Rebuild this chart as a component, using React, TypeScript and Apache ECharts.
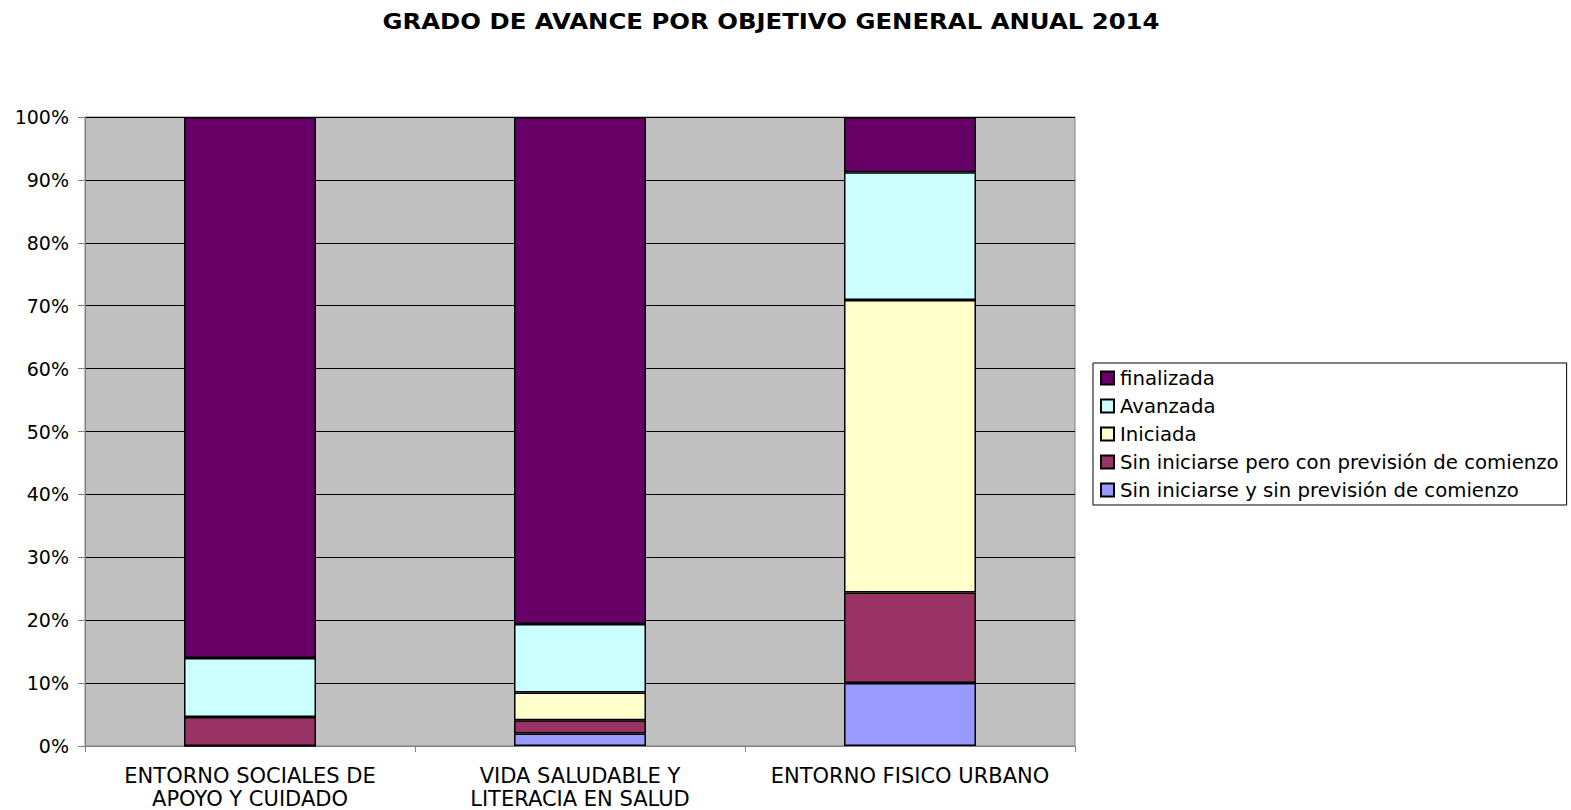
import React, { useEffect, useRef } from "react";
import * as echarts from "echarts";

const titleText = "GRADO DE AVANCE POR OBJETIVO GENERAL ANUAL 2014";
const categories = [
  "ENTORNO SOCIALES DE\nAPOYO Y CUIDADO",
  "VIDA SALUDABLE Y\nLITERACIA EN SALUD",
  "ENTORNO FISICO URBANO",
];
const sinSinPrevision = [0, 2.0, 10.0];
const sinConPrevision = [4.6, 2.1, 14.4];
const iniciada = [0, 4.4, 46.5];
const avanzada = [9.4, 10.9, 20.3];
const finalizada = [86.0, 80.6, 8.8];
const yTicks = [0, 10, 20, 30, 40, 50, 60, 70, 80, 90, 100];

const seriesDefs = [
  { name: "Sin iniciarse y sin previsión de comienzo", data: sinSinPrevision, color: "#9999FF" },
  { name: "Sin iniciarse pero con previsión de comienzo", data: sinConPrevision, color: "#993366" },
  { name: "Iniciada", data: iniciada, color: "#FFFFCC" },
  { name: "Avanzada", data: avanzada, color: "#CCFFFF" },
  { name: "finalizada", data: finalizada, color: "#660066" },
];

export default function App() {
  const ref = useRef<HTMLDivElement>(null);
  useEffect(() => {
    if (!ref.current) return;
    const chart = echarts.init(ref.current, null, { renderer: "svg" });
    const font = "DejaVu Sans, Liberation Sans, Arial, sans-serif";
    chart.setOption({
      animation: false,
      backgroundColor: "#ffffff",
      graphic: [
        {
          type: "text",
          x: 771,
          y: 22,
          scaleX: 1.16,
          style: {
            text: titleText,
            x: 0,
            y: 0,
            align: "center",
            verticalAlign: "middle",
            fontFamily: font,
            fontWeight: "bold",
            fontSize: 21,
            fill: "#000",
          },
        },
      ],
      legend: {
        orient: "vertical",
        left: 1093,
        top: 363,
        padding: [5, 8, 5, 7],
        borderColor: "#000",
        borderWidth: 1,
        itemWidth: 13,
        itemHeight: 13,
        itemGap: 8,
        icon: "rect",
        data: seriesDefs.map((s) => s.name).reverse(),
        textStyle: { fontFamily: font, fontSize: 19.7, lineHeight: 19, color: "#000", padding: [0, 0, 0, 1] },
      },
      grid: {
        left: 85,
        right: 496,
        top: 117,
        bottom: 62,
        show: true,
        backgroundColor: "#C0C0C0",
        borderColor: "#808080",
        borderWidth: 1,
      },
      xAxis: {
        type: "category",
        data: categories,
        axisLine: { show: true, lineStyle: { color: "#808080", width: 1 } },
        axisTick: { show: true, length: 6, lineStyle: { color: "#808080" } },
        axisLabel: {
          fontFamily: font,
          fontSize: 21,
          color: "#000",
          margin: 18,
          lineHeight: 23,
          interval: 0,
        },
      },
      yAxis: {
        type: "value",
        min: 0,
        max: 100,
        interval: 10,
        axisLine: { show: true, lineStyle: { color: "#808080" } },
        axisTick: { show: true, length: 7, lineStyle: { color: "#808080" } },
        splitLine: { show: true, lineStyle: { color: "#000", width: 1 } },
        axisLabel: {
          fontFamily: font,
          fontSize: 19,
          color: "#000",
          margin: 16,
          formatter: (v: number) => (yTicks.includes(v) ? v + "%" : ""),
        },
      },
      series: seriesDefs.map((s) => ({
        name: s.name,
        type: "bar",
        stack: "total",
        data: s.data,
        barWidth: 132,
        itemStyle: { color: s.color, borderColor: "#000", borderWidth: 1.5 },
      })),
    });
    return () => chart.dispose();
  }, []);
  return <div ref={ref} style={{ width: 1571, height: 810, position: "absolute", left: 0, top: 0 }} />;
}
